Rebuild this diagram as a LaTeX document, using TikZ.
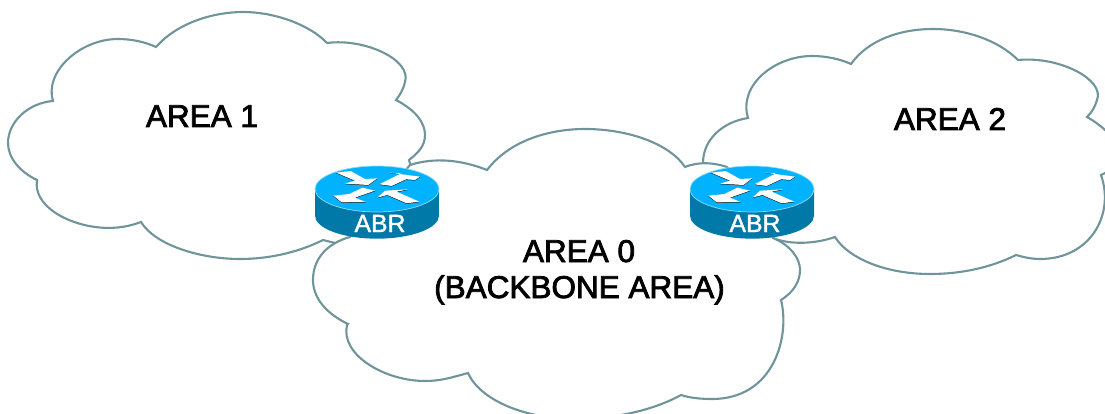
\documentclass[tikz,border=0pt]{standalone}
\usepackage{fontspec}
\setmainfont{Liberation Sans}
\newfontfamily\areafont[FakeBold=2.5]{Liberation Sans}
\newfontfamily\abrfont[FakeBold=1.5]{Liberation Sans}
\definecolor{cloudline}{HTML}{6F9499}
\definecolor{routertop}{HTML}{00B2FF}
\definecolor{routerside}{HTML}{0078A8}
\definecolor{routeredge}{HTML}{8FDDF7}
\tikzset{
  cloudshape/.style={draw=cloudline,fill=white,line width=2.1pt,line join=miter},
  arealabel/.style={anchor=base,text=black,inner sep=0pt,font=\areafont\fontsize{31.5}{36}\selectfont},
  routerlabel/.style={anchor=base,text=white,inner sep=0pt,font=\abrfont\fontsize{24.8}{28}\selectfont},
  arrowwhite/.style={fill=white},
  arrowshadow/.style={fill=black},
  routericon/.pic={
    \begin{scope}[scale=0.3333]
      \fill[routerside] (-186,0) -- (-186,80) arc[start angle=180,end angle=0,x radius=186,y radius=69] -- (186,0) -- cycle;
      \fill[routertop,draw=routeredge,line width=0.7pt] (0,0) ellipse[x radius=186,y radius=69];
      \begin{scope}[yshift=-1.5]
        \fill[arrowshadow] (-123,-49) -- (-79,-54) -- (-36,-30) -- (1,-32) -- (-26,-12) -- (-96,-16) -- (-66,-25) -- cycle;
        \fill[arrowshadow] (129,-37) -- (39,-49) -- (72,-47) -- (7,-14) -- (44,-9) -- (87,-29) -- (114,-27) -- cycle;
        \fill[arrowshadow] (-131,20) -- (-83,15) -- (-44,-4) -- (-6,5) -- (-66,26) -- (-34,39) -- (-106,40) -- cycle;
        \fill[arrowshadow] (1,26) -- (24,5) -- (94,1) -- (59,8) -- (127,38) -- (89,43) -- (31,18) -- cycle;
      \end{scope}
      \fill[arrowwhite] (-123,-49) -- (-79,-54) -- (-36,-30) -- (1,-32) -- (-26,-12) -- (-96,-16) -- (-66,-25) -- cycle;
      \fill[arrowwhite] (129,-37) -- (39,-49) -- (72,-47) -- (7,-14) -- (44,-9) -- (87,-29) -- (114,-27) -- cycle;
      \fill[arrowwhite] (-131,20) -- (-83,15) -- (-44,-4) -- (-6,5) -- (-66,26) -- (-34,39) -- (-106,40) -- cycle;
      \fill[arrowwhite] (1,26) -- (24,5) -- (94,1) -- (59,8) -- (127,38) -- (89,43) -- (31,18) -- cycle;
    \end{scope}
  }
}
\begin{document}
\begin{tikzpicture}[x=1pt,y=-1pt]
\useasboundingbox (0,0) rectangle (1105,414);
\clip (0,0) rectangle (1105,414);
% AREA 1 cloud
\path[cloudshape]
  (156,47) .. controls (178,22) and (215,12) .. (243,12)
  .. controls (275,12) and (310,25) .. (327,43)
  .. controls (365,38) and (412,60) .. (405,82)
  .. controls (403,90) and (400,95) .. (396,100)
  .. controls (415,110) and (425,122) .. (425,135)
  .. controls (425,146) and (418,153) .. (409,160)
  -- (411,167) -- (400,240) -- (335,243) -- (323,240)
  .. controls (295,254) and (265,259) .. (240,259)
  .. controls (200,259) and (155,245) .. (141,222)
  .. controls (125,228) and (110,229) .. (95,227)
  .. controls (65,223) and (33,205) .. (37,180)
  .. controls (20,172) and (8,158) .. (8,143)
  .. controls (8,122) and (28,103) .. (53,101)
  .. controls (44,72) and (80,39) .. (118,39)
  .. controls (132,39) and (145,42) .. (156,47)
  -- cycle;
% AREA 2 cloud
\path[cloudshape]
  (851,64) .. controls (868,40) and (900,29) .. (933,29)
  .. controls (965,29) and (998,40) .. (1018,60)
  .. controls (1060,56) and (1105,80) .. (1097,100)
  .. controls (1095,107) and (1092,112) .. (1087,117)
  .. controls (1115,133) and (1135,160) .. (1101,175)
  .. controls (1115,215) and (1090,259) .. (1040,259)
  .. controls (1031,259) and (1023,257) .. (1016,255)
  .. controls (990,268) and (960,274) .. (930,274)
  .. controls (885,274) and (848,258) .. (835,237)
  .. controls (815,244) and (790,245) .. (773,238)
  -- (740,210) -- (703,163)
  .. controls (703,140) and (722,122) .. (748,118)
  .. controls (738,85) and (775,56) .. (812,56)
  .. controls (826,56) and (840,59) .. (851,64)
  -- cycle;
% AREA 0 cloud
\path[cloudshape]
  (410,165) .. controls (435,157) and (462,160) .. (487,170)
  .. controls (510,140) and (550,129) .. (585,129)
  .. controls (625,129) and (668,142) .. (685,167)
  .. controls (700,161) and (715,163) .. (727,167)
  -- (760,200) -- (773,238)
  .. controls (790,245) and (800,258) .. (800,270)
  .. controls (800,283) and (792,293) .. (781,300)
  .. controls (790,335) and (775,399) .. (712,399)
  .. controls (701,399) and (690,398) .. (681,395)
  .. controls (650,412) and (610,419) .. (575,419)
  .. controls (525,419) and (480,400) .. (468,373)
  .. controls (450,378) and (440,381) .. (425,381)
  .. controls (385,381) and (340,355) .. (347,325)
  -- (348,324)
  .. controls (325,313) and (313,297) .. (313,280)
  .. controls (313,258) and (328,243) .. (350,237)
  -- cycle;
% Routers
\pic at (377,189) {routericon};
\pic at (752,189) {routericon};
\node[routerlabel] (abrleft) at (380,232) {ABR};
\node[routerlabel] (abrright) at (755,232) {ABR};
% Labels
\node[arealabel] (areaone) at (202,127) {AREA 1};
\node[arealabel] (areatwo) at (950,130) {AREA 2};
\node[arealabel] (areazero) at (579,262) {AREA 0};
\node[arealabel] (backbone) at (579.5,298) {(BACKBONE AREA)};
\end{tikzpicture}
\end{document}
